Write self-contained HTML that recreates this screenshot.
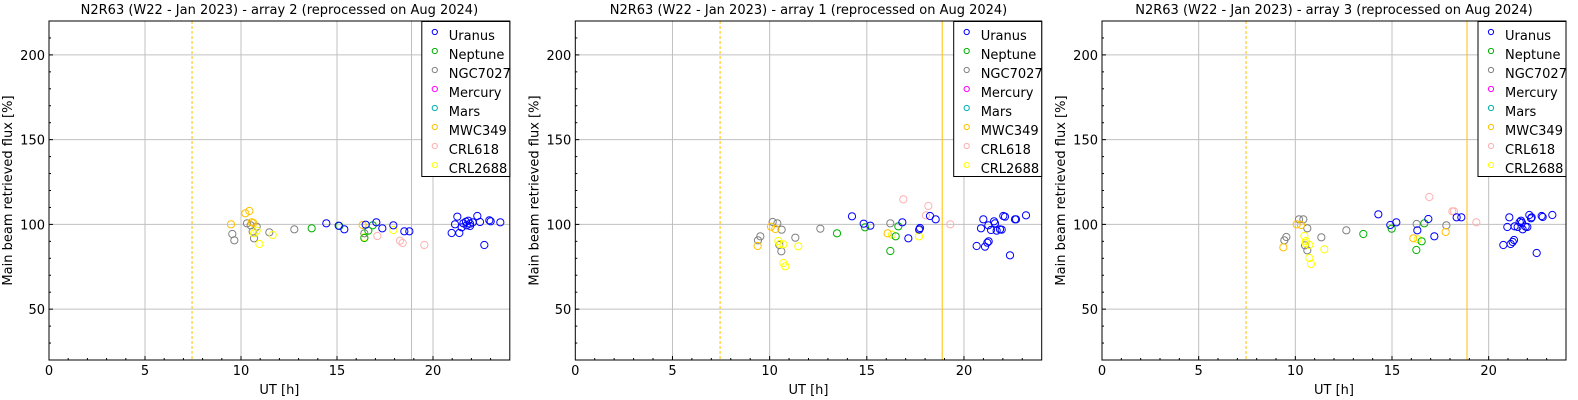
<!DOCTYPE html>
<html><head><meta charset="utf-8"><style>
html,body{margin:0;padding:0;background:#fff;width:1578px;height:400px;overflow:hidden}
svg{display:block;font-family:"DejaVu Sans","Liberation Sans",sans-serif}
</style></head><body>
<svg id="s" width="1578" height="400" xmlns="http://www.w3.org/2000/svg"></svg>
<script>
const S=document.getElementById('s');let h='';
const C={b:'#0000ff',g:'#00b000',k:'#808080',o:'#ffc000',p:'#ffb0b0',y:'#ffff00'};
const panels=[
{L:49,R:509.8,t:'array 2',ox:180,oy:190,pts:{
o:[[153,103],[196,70],[208,63],[215,97],[220,99],[548,105]],
k:[[157,132],[163,151],[201,100],[212,106],[218,125],[222,145],[230,110],[268,127],[343,118],[553,130]],
y:[[222,130],[230,122],[238,162],[278,135],[553,142],[640,120]],
g:[[395,115],[478,108],[565,122],[578,106],[553,144]],
b:[[439,100],[476,107],[493,118],[557,104],[589,97],[607,115],[640,106],[673,124],[688,124],[815,129],[825,103],[832,80],[838,129],[845,112],[850,100],[858,95],[865,92],[870,101],[878,97],[892,78],[900,96],[913,165],[928,91],[932,94],[961,97],[860,106],[870,108]],
p:[[592,138],[660,152],[668,159],[733,165]]}},
{L:575.3,R:1041.7,t:'array 1',ox:700,oy:180,pts:{
b:[[456,109],[491,131],[511,137],[607,127],[625,175],[658,148],[660,144],[690,108],[707,118],[850,118],[843,145],[865,136],[882,124],[885,130],[890,152],[900,148],[905,149],[910,108],[915,110],[945,118],[948,118],[978,106],[830,198],[855,200],[862,188],[866,184],[930,226],[873,150]],
g:[[411,160],[495,142],[571,213],[587,169],[595,139]],
k:[[218,126],[232,130],[245,149],[181,169],[174,181],[238,195],[244,214],[286,173],[361,146],[571,130],[657,150]],
o:[[173,198],[213,140],[226,147],[563,160]],
y:[[235,183],[240,192],[250,193],[295,199],[250,249],[256,259],[576,164],[657,169]],
p:[[610,58],[685,78],[678,106],[751,133]]}},
{L:1102,R:1566,t:'array 3',ox:1220,oy:180,pts:{
b:[[475,103],[511,135],[529,127],[592,151],[625,117],[643,169],[710,112],[724,112],[868,112],[862,141],[884,139],[893,141],[899,126],[903,122],[906,128],[908,148],[917,140],[922,141],[928,105],[933,115],[935,112],[965,108],[968,111],[997,105],[850,195],[872,192],[878,186],[882,180],[950,219]],
g:[[430,162],[515,146],[605,184],[613,130],[589,210]],
k:[[237,118],[250,118],[262,145],[199,171],[193,181],[255,196],[262,211],[304,172],[379,151],[590,132],[679,136]],
o:[[190,202],[230,133],[243,135],[580,175],[677,156]],
y:[[253,168],[258,183],[268,195],[313,208],[268,234],[273,252],[593,178],[257,190]],
p:[[628,51],[697,94],[702,94],[769,127]]}}];
const T=21,B=360;
const yv=v=>B-(v-20)*(B-T)/200;
panels.forEach(P=>{
 const sx=(P.R-P.L)/24, xv=v=>P.L+v*sx;
 for(let v=5;v<=20;v+=5)h+=`<line x1="${xv(v)}" x2="${xv(v)}" y1="${T}" y2="${B}" stroke="#c0c0c0"/>`;
 for(let v=50;v<=200;v+=50)h+=`<line x1="${P.L}" x2="${P.R}" y1="${yv(v)}" y2="${yv(v)}" stroke="#c0c0c0"/>`;
 h+=`<line x1="${xv(7.45)}" x2="${xv(7.45)}" y1="${T}" y2="${B}" stroke="#ffc000" stroke-dasharray="3,2"/>`;
 h+=`<line x1="${xv(18.88)}" x2="${xv(18.88)}" y1="${T}" y2="${B}" stroke="#ffc000"/>`;
 for(const k of ['k','y','o','p','g','b'])(P.pts[k]||[]).forEach(([x,y])=>{
  h+=`<circle cx="${P.ox+x/3}" cy="${P.oy+y/3}" r="3.6" fill="none" stroke="${C[k]}" stroke-width="1"/>`;});
 h+=`<rect x="${P.L}" y="${T}" width="${P.R-P.L}" height="${B-T}" fill="none" stroke="#000"/>`;
 for(let v=1;v<24;v++)h+=`<line x1="${xv(v)}" x2="${xv(v)}" y1="${B}" y2="${B-(v%5?2:4)}" stroke="#000"/>`;
 for(let v=30;v<=210;v+=10)h+=`<line x1="${P.L}" x2="${P.L+(v%50?2:4)}" y1="${yv(v)}" y2="${yv(v)}" stroke="#000"/>`;
 for(let v=0;v<=20;v+=5)h+=`<text x="${xv(v)}" y="375" font-size="13" text-anchor="middle">${v}</text>`;
 for(let v=50;v<=200;v+=50)h+=`<text x="${P.L-4}" y="${yv(v)+5}" font-size="13" text-anchor="end">${v}</text>`;
 h+=`<text x="${(P.L+P.R)/2}" y="394" font-size="13" text-anchor="middle">UT [h]</text>`;
 h+=`<text transform="translate(${P.L-37},${(T+B)/2}) rotate(-90)" font-size="13" text-anchor="middle">Main beam retrieved flux [%]</text>`;
 h+=`<text x="${(P.L+P.R)/2}" y="14" font-size="13" text-anchor="middle">N2R63 (W22 - Jan 2023) - ${P.t} (reprocessed on Aug 2024)</text>`;
 const lx=P.R-88;
 h+=`<rect x="${lx}" y="${T+0.5}" width="88" height="155" fill="#fff" stroke="#000"/>`;
 [['Uranus','#0000ff'],['Neptune','#00b000'],['NGC7027','#808080'],['Mercury','#ff00ff'],['Mars','#00b0b0'],['MWC349','#ffc000'],['CRL618','#ffb0b0'],['CRL2688','#ffff00']].forEach(([n,c],i)=>{
  const yy=35+i*19;
  h+=`<circle cx="${lx+13}" cy="${yy-3}" r="2.6" fill="none" stroke="${c}"/>`;
  h+=`<text x="${lx+27}" y="${yy+5}" font-size="13">${n}</text>`;});
});
S.innerHTML=h;
</script>
</body></html>
